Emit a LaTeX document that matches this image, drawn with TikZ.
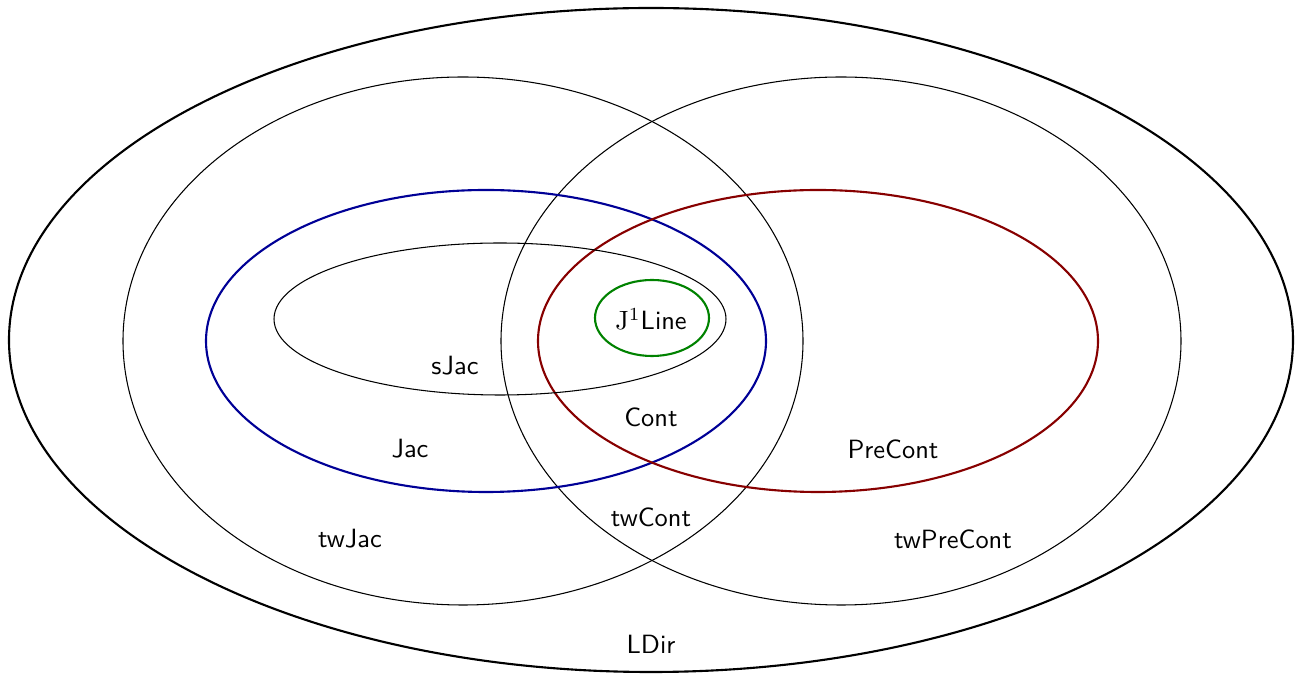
\documentclass[tikz,border=0pt]{standalone}
\usepackage{tikz}

\definecolor{jacblue}{RGB}{0,0,150}
\definecolor{contred}{RGB}{135,0,0}
\definecolor{linegreen}{RGB}{0,130,0}

\begin{document}
\begin{tikzpicture}[x=0.0133cm, y=-0.0133cm, font=\sffamily]

  \useasboundingbox (0,0) rectangle (1299,674);

  % Outline around the whole thing.
  \draw[thick,black] (651,340) ellipse [x radius=642, y radius=332];

  % The two twisted classes.
  \draw[black] (463,341) ellipse [x radius=340, y radius=264];
  \draw[black] (841,341) ellipse [x radius=340, y radius=264];

  % Jac and PreCont
  \draw[thick,jacblue] (486,341) ellipse [x radius=280, y radius=151];
  \draw[thick,contred] (818,341) ellipse [x radius=280, y radius=151];

  % sJac and J^1 Line in the middle
  \draw[black] (500,319) ellipse [x radius=226, y radius=76];
  \draw[thick,linegreen] (652,318) ellipse [x radius=57, y radius=38];

  % Text
  \node[black] (jline) at (651,319) {$\mathrm{J}^1$Line};
  \node[black] (sjac) at (455,366) {sJac};
  \node[black] (cont) at (651,417) {Cont};
  \node[black] (jac) at (410,449) {Jac};
  \node[black] (precont) at (893,449) {PreCont};
  \node[black] (twcont) at (651,517) {twCont};
  \node[black] (twjac) at (350,539) {twJac};
  \node[black] (twprecont) at (953,539) {twPreCont};
  \node[black] (ldir) at (651,644) {LDir};

\end{tikzpicture}
\end{document}
